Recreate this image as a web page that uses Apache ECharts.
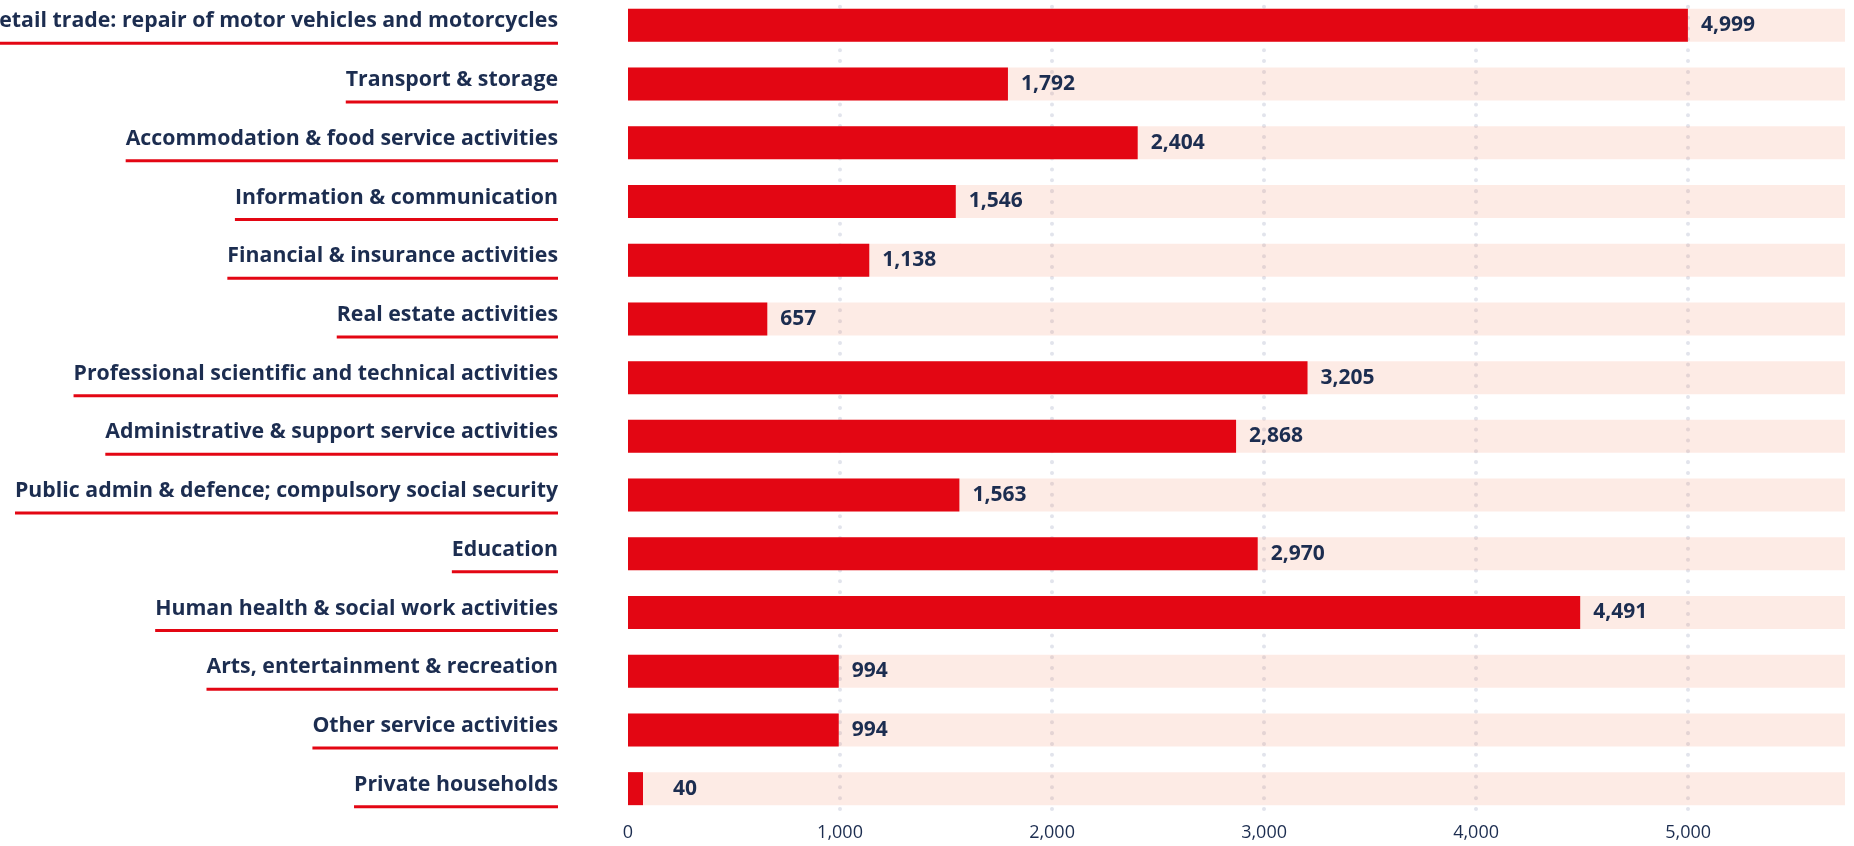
<!DOCTYPE html>
<html>
<head>
<meta charset="utf-8">
<script src="https://cdn.jsdelivr.net/npm/echarts@6/dist/echarts.min.js"></script>
<style>
html,body{margin:0;padding:0;background:#fff;}
#chart{width:1854px;height:846px;}
</style>
</head>
<body>
<div id="chart"></div>
<script>
const categories = [
  "Wholesale & retail trade: repair of motor vehicles and motorcycles",
  "Transport & storage",
  "Accommodation & food service activities",
  "Information & communication",
  "Financial & insurance activities",
  "Real estate activities",
  "Professional scientific and technical activities",
  "Administrative & support service activities",
  "Public admin & defence; compulsory social security",
  "Education",
  "Human health & social work activities",
  "Arts, entertainment & recreation",
  "Other service activities",
  "Private households"
];
const values = [4999, 1792, 2404, 1546, 1138, 657, 3205, 2868, 1563, 2970, 4491, 994, 994, 40];
const xTickInterval = 1000;

const NAVY = '#1c2d50';
const RED = '#e30613';
const FONT = '"Open Sans", "Noto Sans", sans-serif';
const fmt = v => Number(v).toLocaleString('en-US');

const seriesData = values.map(v => v < 100 ? { value: v, label: { distance: 30 } } : v);

const chart = echarts.init(document.getElementById('chart'), null, { renderer: 'canvas' });
chart.setOption({
  animation: false,
  backgroundColor: '#ffffff',
  grid: { left: 628, right: 9, top: -4, bottom: 28, containLabel: false, outerBoundsMode: 'none' },
  xAxis: {
    type: 'value',
    min: 0,
    max: 5740,
    interval: xTickInterval,
    axisLine: { show: false },
    axisTick: { show: false },
    axisLabel: {
      show: true, showMaxLabel: false,
      color: NAVY, fontFamily: FONT, fontSize: 18, fontWeight: 400, margin: 6,
      formatter: fmt
    },
    splitLine: {
      show: true, showMinLine: false, showMaxLine: false,
      lineStyle: { color: '#e2e4ec', width: 4, type: [0.01, 10.83], cap: 'round', dashOffset: 0 }
    }
  },
  yAxis: {
    type: 'category',
    inverse: true,
    data: categories,
    axisLine: { show: false },
    axisTick: { show: false },
    axisLabel: {
      interval: 0,
      margin: 70,
      align: 'right',
      padding: [0, 0, 5, 0],
      formatter: v => '{t|' + v + '}\n{hr|}',
      rich: {
        t: { color: NAVY, fontFamily: FONT, fontSize: 21.3, fontWeight: 700, lineHeight: 41, align: 'right' },
        hr: { width: '100%', height: 3, backgroundColor: RED, align: 'right' }
      }
    }
  },
  series: [{
    type: 'bar',
    data: seriesData,
    barWidth: 33,
    barMinHeight: 15,
    itemStyle: { color: RED },
    showBackground: true,
    backgroundStyle: { color: 'rgba(240,120,80,0.15)' },
    label: {
      show: true,
      position: 'right',
      distance: 13,
      color: NAVY,
      fontFamily: FONT,
      fontSize: 21,
      fontWeight: 700,
      formatter: p => fmt(p.value)
    }
  }]
});
</script>
</body>
</html>
